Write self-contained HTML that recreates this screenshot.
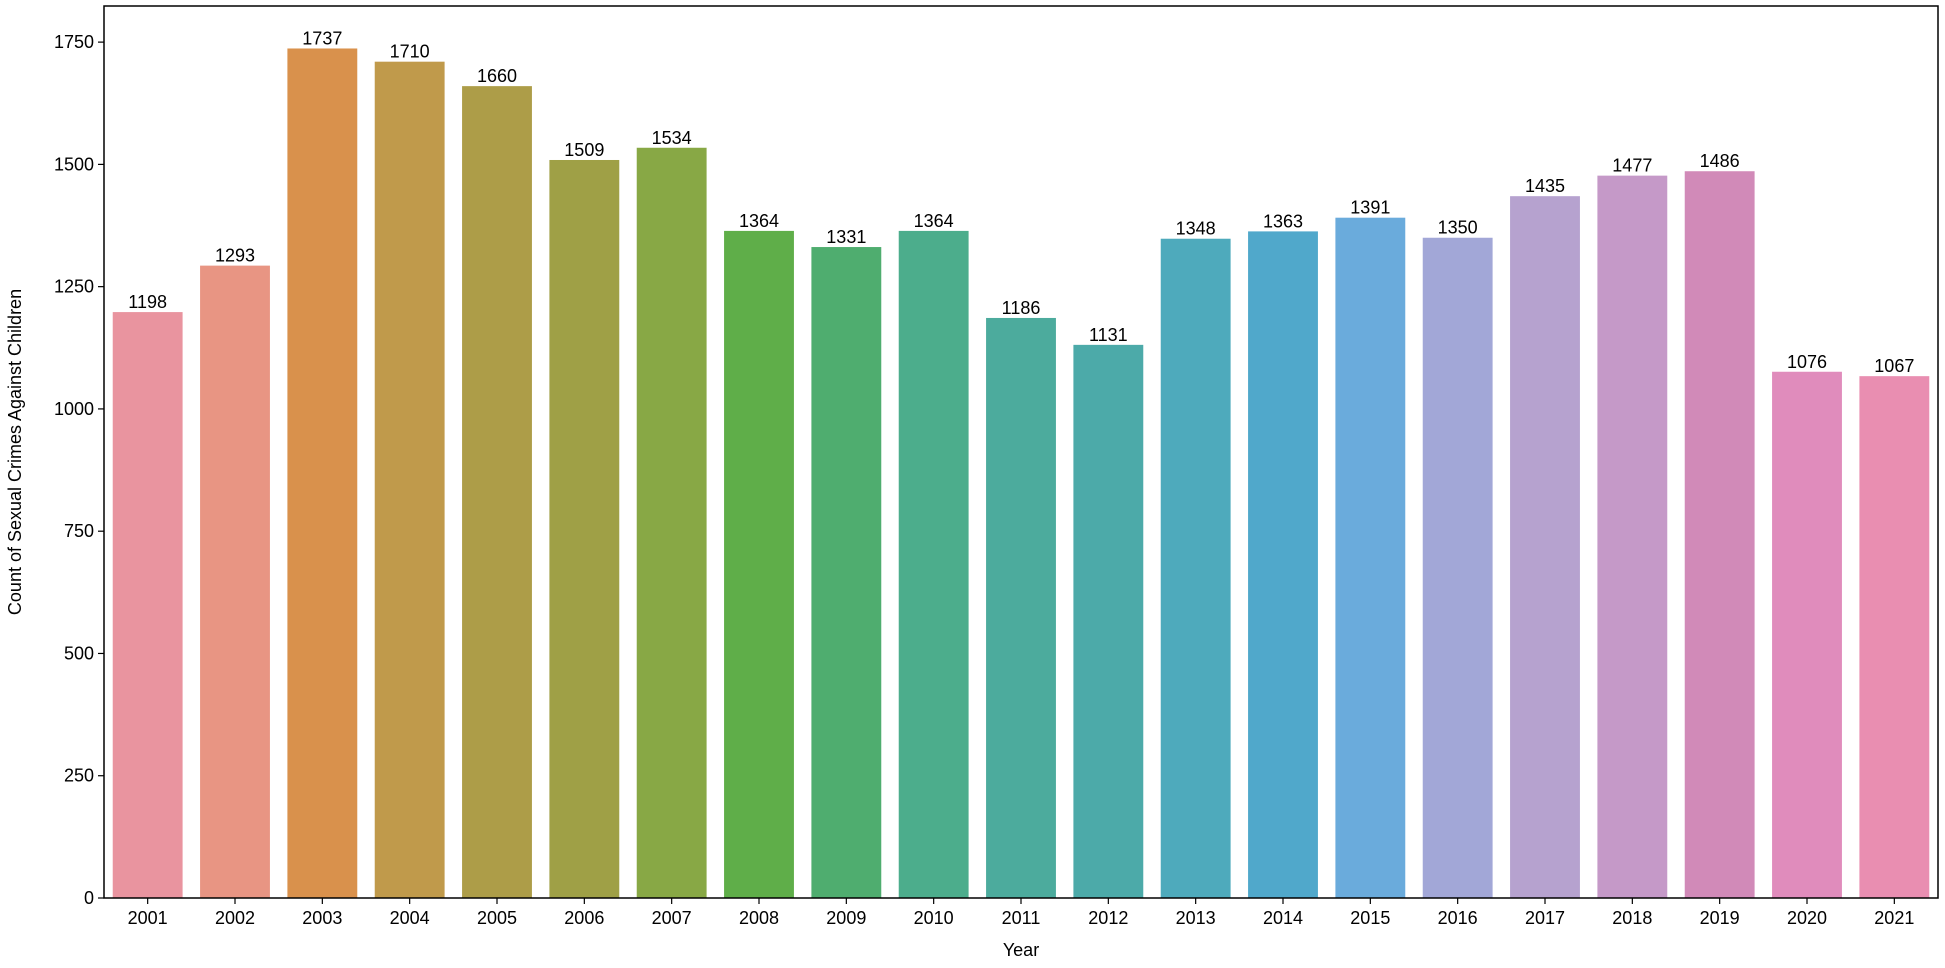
<!DOCTYPE html>
<html><head><meta charset="utf-8"><style>
html,body{margin:0;padding:0;background:#fff;}
svg text{font-family:"Liberation Sans","DejaVu Sans",sans-serif;fill:#000;}
</style></head><body>
<svg id="chart" width="1945" height="963" xmlns="http://www.w3.org/2000/svg"></svg>
<script>
const years = ["2001","2002","2003","2004","2005","2006","2007","2008","2009","2010","2011","2012","2013","2014","2015","2016","2017","2018","2019","2020","2021"];
const counts = [1198,1293,1737,1710,1660,1509,1534,1364,1331,1364,1186,1131,1348,1363,1391,1350,1435,1477,1486,1076,1067];
const yTicks = [0,250,500,750,1000,1250,1500,1750];
const colors = ["#e9949f","#e89583","#d9914c","#c09a4b","#ad9d48","#9fa046","#88a845","#5fae49","#4fad6f","#4cad8c","#4cab9d","#4caaa9","#4eaabc","#50a8cb","#6aabdc","#a2a7d7","#b6a2cf","#c599c8","#d18ab8","#e08cbc","#e98eb1"];

const NS="http://www.w3.org/2000/svg";
const svg=document.getElementById('chart');
const L=104,R=1938,T=6,B=898;
const yMax=Math.max(...counts)*1.05;
const slot=(R-L)/years.length;
const x=i=>L+slot*(i+0.5);
const y=v=>B-(v/yMax)*(B-T);
function mk(tag,attrs,parent){const e=document.createElementNS(NS,tag);for(const k in attrs)e.setAttribute(k,attrs[k]);(parent||svg).appendChild(e);return e;}

counts.forEach((v,i)=>{
  const r=mk('rect',{x:x(i)-slot*0.4,y:y(v),width:slot*0.8,height:B-y(v),fill:colors[i%colors.length]});
  
  
  const t=mk('text',{x:x(i),y:y(v)-4,'text-anchor':'middle','font-size':'18'});
  t.textContent=v;
  
  
  const tk=mk('line',{x1:x(i),x2:x(i),y1:B,y2:B+6,stroke:'#000','stroke-width':1.2});
  
  
  const xl=mk('text',{x:x(i),y:B+26,'text-anchor':'middle','font-size':'18'});
  xl.textContent=years[i];
  
  
});
yTicks.forEach(v=>{
  const tk=mk('line',{x1:L-6,x2:L,y1:y(v),y2:y(v),stroke:'#000','stroke-width':1.2});
  
  
  const yl=mk('text',{x:L-10,y:y(v)+6,'text-anchor':'end','font-size':'18'});
  yl.textContent=v;
  
  
});
const frame=mk('rect',{x:L,y:T,width:R-L,height:B-T,fill:'none',stroke:'#000','stroke-width':1.5});


const xt=mk('text',{x:(L+R)/2,y:956,'text-anchor':'middle','font-size':'18'});
xt.textContent='Year';


const yt=mk('text',{x:0,y:0,'text-anchor':'middle','font-size':'18',transform:`translate(21,${(T+B)/2}) rotate(-90)`});
yt.textContent='Count of Sexual Crimes Against Children';


</script>
</body></html>
